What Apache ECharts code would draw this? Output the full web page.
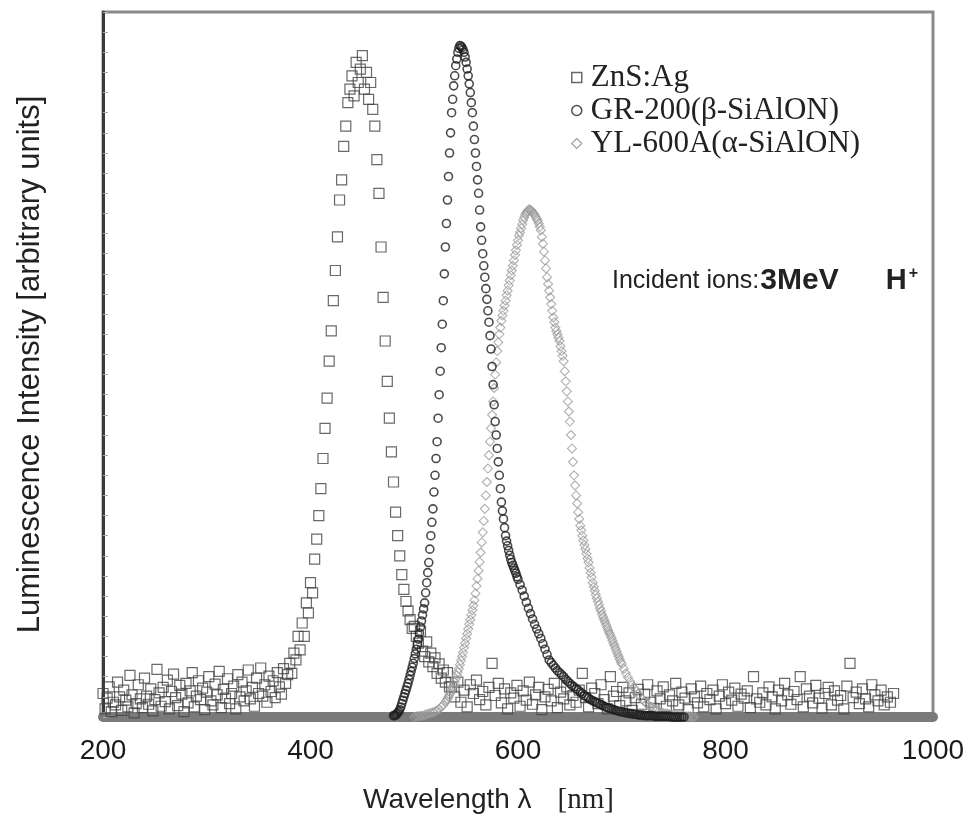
<!DOCTYPE html>
<html>
<head>
<meta charset="utf-8">
<script src="https://cdn.jsdelivr.net/npm/echarts@6/dist/echarts.min.js"></script>
<style>
  html, body { margin: 0; padding: 0; background: #fff; }
  #chart { width: 975px; height: 839px; }
</style>
</head>
<body>
<div id="chart"></div>
<script>
// x ticks
const xTicks = [200, 400, 600, 800, 1000]

// ZnS:Ag, three sampled stretches (start nm, step nm, intensities)
const znsLowStart = 200, znsLowStep = 2
const znsLow = [
  .035, .012, .028, .045, .008, .022, .018, .052, .030, .010,
  .040, .025, .015, .062, .033, .006, .020, .048, .027, .014,
  .058, .031, .019, .042, .009, .026, .071, .036, .016, .044,
  .023, .055, .012, .038, .064, .029, .017, .047, .034, .008,
  .050, .021, .039, .066, .015, .031, .054, .026, .043, .011,
  .037, .060, .024, .018, .049, .033, .068, .014, .041, .028,
  .057, .020, .035, .046, .012, .063, .030, .052, .024, .039,
  .070, .027, .044, .016, .058, .035, .073, .031, .048, .022,
  .061, .038, .054, .029, .066, .045, .034, .072, .050, .063
]
const znsPeakStart = 380, znsPeakStep = 2
const znsPeak = [
  .080, .065, .095, .085, .120, .100, .140, .120, .170, .155,
  .200, .185, .235, .265, .300, .340, .385, .430, .475, .530,
  .575, .620, .665, .715, .770, .800, .850, .880, .915, .935,
  .955, .925, .975, .945, .965, .985, .935, .960, .920, .945,
  .905, .880, .830, .780, .700, .625, .560, .500, .445, .395,
  .350, .305, .270, .240, .212, .190, .172, .158, .145, .132,
  .135, .120, .110, .128, .098, .090, .112, .082, .095, .075,
  .088, .065, .079, .058, .070, .052, .066, .045
]
const znsHighStart = 536, znsHighStep = 3
const znsHigh = [
  .045, .030, .052, .022, .040, .015, .048, .035, .055, .026,
  .038, .018, .044, .080, .032, .050, .021, .042, .012, .036,
  .028, .047, .016, .039, .025, .052, .019, .033, .044, .011,
  .030, .041, .024, .050, .014, .037, .027, .045, .018, .032,
  .022, .040, .065, .029, .015, .043, .035, .020, .048, .026,
  .012, .060, .031, .038, .017, .044, .024, .036, .010, .029,
  .041, .019, .034, .048, .022, .013, .039, .027, .045, .016,
  .033, .024, .050, .018, .037, .028, .011, .042, .030, .021,
  .046, .015, .035, .026, .040, .012, .031, .048, .020, .037,
  .025, .043, .016, .034, .028, .039, .014, .060, .027, .022,
  .036, .018, .045, .030, .012, .040, .024, .050, .033, .019,
  .038, .026, .060, .015, .042, .031, .021, .047, .028, .013,
  .035, .044, .018, .039, .025, .032, .012, .046, .080, .029,
  .037, .020, .042, .027, .015, .048, .033, .024, .040, .018,
  .030, .022, .035
]

// GR-200 (beta-SiAlON)
const grMainStart = 480, grMainStep = 1
const grMain = [
  .002, .002, .003, .004, .006, .008, .011, .015, .020, .025,
  .030, .035, .040, .045, .050, .056, .062, .068, .074, .080,
  .087, .094, .101, .108, .116, .125, .134, .143, .152, .161,
  .170, .185, .200, .215, .230, .250, .270, .290, .310, .335,
  .360, .385, .410, .445, .480, .515, .550, .585, .620, .660,
  .700, .735, .770, .805, .840, .870, .900, .920, .940, .955,
  .970, .980, .990, .996, 1.000, .999, .997, .994, .990, .983,
  .975, .965, .955, .943, .930, .915, .900, .880, .860, .840,
  .820, .800, .780, .755, .730, .710, .690, .672, .655, .638,
  .622, .605, .588, .568, .548, .522, .495, .465, .440, .420,
  .400, .380, .360, .340, .320, .307, .295, .282, .270, .262,
  .255, .248, .241, .235, .230, .226, .222, .218, .214, .209,
  .205
]
const grTailStart = 602, grTailStep = 2
const grTail = [
  .197, .189, .180, .171, .162, .154, .146, .138, .131, .124,
  .117, .109, .101, .093, .085, .081, .077, .073, .069, .066,
  .063, .060, .056, .053, .050, .047, .045, .042, .040, .037,
  .035, .032, .030, .028, .026, .024, .023, .021, .020, .018,
  .017, .015, .014, .013, .012, .011, .010, .009, .008, .008,
  .007, .006, .006, .005, .005, .004, .004, .003, .003, .003,
  .002, .002, .002, .002, .002, .001, .001, .001, .001, .001,
  .001, .001, .001, 0, 0, 0, 0, 0, 0, 0
]

// YL-600A (alpha-SiAlON)
const ylLowStart = 500, ylLowStep = 2
const ylLow = [
  .000, .001, .001, .002, .002, .003, .004, .005, .006, .007,
  .008, .010, .012, .015, .018
]
const ylMainStart = 530, ylMainStep = 1
const ylMain = [
  .022, .024, .027, .030, .033, .036, .040, .044, .048, .052,
  .057, .062, .067, .072, .078, .084, .090, .096, .103, .110,
  .117, .124, .131, .138, .145, .152, .159, .166, .174, .184,
  .195, .206, .218, .231, .245, .260, .275, .292, .310, .330,
  .350, .370, .390, .410, .430, .450, .470, .490, .510, .528,
  .545, .558, .570, .580, .590, .598, .605, .613, .620, .628,
  .635, .643, .650, .658, .665, .672, .680, .688, .695, .703,
  .710, .717, .722, .728, .734, .740, .744, .748, .751, .753,
  .755, .756, .755, .754, .752, .750, .748, .745, .742, .739,
  .735, .730, .725, .715, .705, .693, .680, .668, .655, .645,
  .635, .625, .615, .605, .595, .588, .580, .575, .570, .565,
  .560, .552, .545, .538, .530, .515, .500, .485, .470, .455,
  .440, .420, .400, .380, .360, .345, .330, .318, .305, .295,
  .285, .278, .270, .263, .256, .250, .243, .236, .230, .222,
  .215, .208, .200, .194, .188, .182, .177, .172, .167, .162,
  .158, .153, .149, .145, .141, .137, .133, .129, .125, .122,
  .118, .114, .110, .106, .102, .098, .094, .090, .086, .082,
  .079
]
const ylHighStart = 702, ylHighStep = 2
const ylHigh = [
  .072, .065, .059, .053, .048, .043, .038, .034, .030, .026,
  .023, .020, .017, .015, .013, .011, .010, .008, .007, .006,
  .005, .005, .004, .004, .003, .003, .002, .002, .002, .001,
  .001, .001, .001, 0, 0
]

function pairs(start, step, vals) {
  return vals.map((v, i) => [start + i * step, v])
}

const chart = echarts.init(document.getElementById('chart'))

const sans = 'Liberation Sans, Arial, sans-serif'
const serif = 'Liberation Serif, Times New Roman, serif'

const option = {
  animation: false,
  backgroundColor: '#fff',
  grid: {
    left: 103, right: 42, top: 12, bottom: 122,
    show: true, borderColor: '#8a8a8a', borderWidth: 3
  },
  xAxis: {
    type: 'value', min: 200, max: 1000, interval: 200,
    axisLine: { show: true, onZero: false, lineStyle: { color: '#7a7a7a', width: 10 } },
    axisTick: { show: false },
    splitLine: { show: false },
    axisLabel: {
      margin: 20, fontSize: 28, fontFamily: sans, color: '#1a1a1a',
      customValues: xTicks,
      formatter: v => String(v)
    }
  },
  yAxis: {
    type: 'value', min: 0, max: 1.05, interval: 0.03,
    axisLine: { show: true, lineStyle: { color: '#3a3a3a', width: 3 } },
    axisTick: { show: true, inside: true, length: 5, lineStyle: { color: '#aaa', width: 1 } },
    axisLabel: { show: false },
    splitLine: { show: false },
    name: 'Luminescence Intensity [arbitrary units]',
    nameLocation: 'middle', nameGap: 57,
    nameTextStyle: { fontSize: 31, fontFamily: sans, color: '#222' }
  },
  legend: {
    orient: 'vertical', left: 566, top: 56,
    itemWidth: 10, itemHeight: 10, itemGap: 0,
    textStyle: { fontFamily: serif, fontSize: 31, color: '#222', lineHeight: 33, padding: [0, 0, 0, 4] },
    data: [
      { name: 'ZnS:Ag', icon: 'rect', itemStyle: { color: 'transparent', borderColor: '#444', borderWidth: 1.5 } },
      { name: 'GR-200(β-SiAlON)', icon: 'circle', itemStyle: { color: 'transparent', borderColor: '#222', borderWidth: 1.5 } },
      { name: 'YL-600A(α-SiAlON)', icon: 'diamond', itemStyle: { color: 'transparent', borderColor: '#888', borderWidth: 1.2 } }
    ]
  },
  graphic: [
    {
      type: 'text', left: 612, top: 266,
      style: {
        text: '{n|Incident ions:}{b|3MeV}{h|H}{s|+}',
        rich: {
          n: { fontFamily: sans, fontSize: 25, fill: '#222' },
          b: { fontFamily: sans, fontSize: 30, fontWeight: 'bold', fill: '#222', padding: [0, 0, 0, 1] },
          h: { fontFamily: sans, fontSize: 29, fontWeight: 'bold', fill: '#222', padding: [0, 0, 0, 47] },
          s: { fontFamily: sans, fontSize: 16, fontWeight: 'bold', fill: '#222', verticalAlign: 'top', padding: [0, 0, 12, 2] }
        }
      }
    },
    {
      type: 'text', left: 363, top: 786,
      style: {
        text: '{a|Wavelength λ}{b|[nm]}',
        rich: {
          a: { fontFamily: sans, fontSize: 28, fill: '#222' },
          b: { fontFamily: serif, fontSize: 29, fill: '#222', padding: [0, 0, 0, 26] }
        }
      }
    }
  ],
  series: [
    {
      name: 'ZnS:Ag', type: 'scatter', symbol: 'rect', symbolSize: 10,
      itemStyle: { color: 'transparent', borderColor: '#444', borderWidth: 1.2 },
      data: pairs(znsLowStart, znsLowStep, znsLow)
        .concat(pairs(znsPeakStart, znsPeakStep, znsPeak))
        .concat(pairs(znsHighStart, znsHighStep, znsHigh))
    },
    {
      name: 'YL-600A(α-SiAlON)', type: 'scatter', symbol: 'diamond', symbolSize: 9,
      itemStyle: { color: 'transparent', borderColor: '#9c9c9c', borderWidth: 1.1 },
      data: pairs(ylLowStart, ylLowStep, ylLow)
        .concat(pairs(ylMainStart, ylMainStep, ylMain))
        .concat(pairs(ylHighStart, ylHighStep, ylHigh))
    },
    {
      name: 'GR-200(β-SiAlON)', type: 'scatter', symbol: 'circle', symbolSize: 8,
      itemStyle: { color: 'transparent', borderColor: '#1e1e1e', borderWidth: 1.6 },
      data: pairs(grMainStart, grMainStep, grMain).concat(pairs(grTailStart, grTailStep, grTail))
    }
  ]
}

chart.setOption(option)
</script>
</body>
</html>
